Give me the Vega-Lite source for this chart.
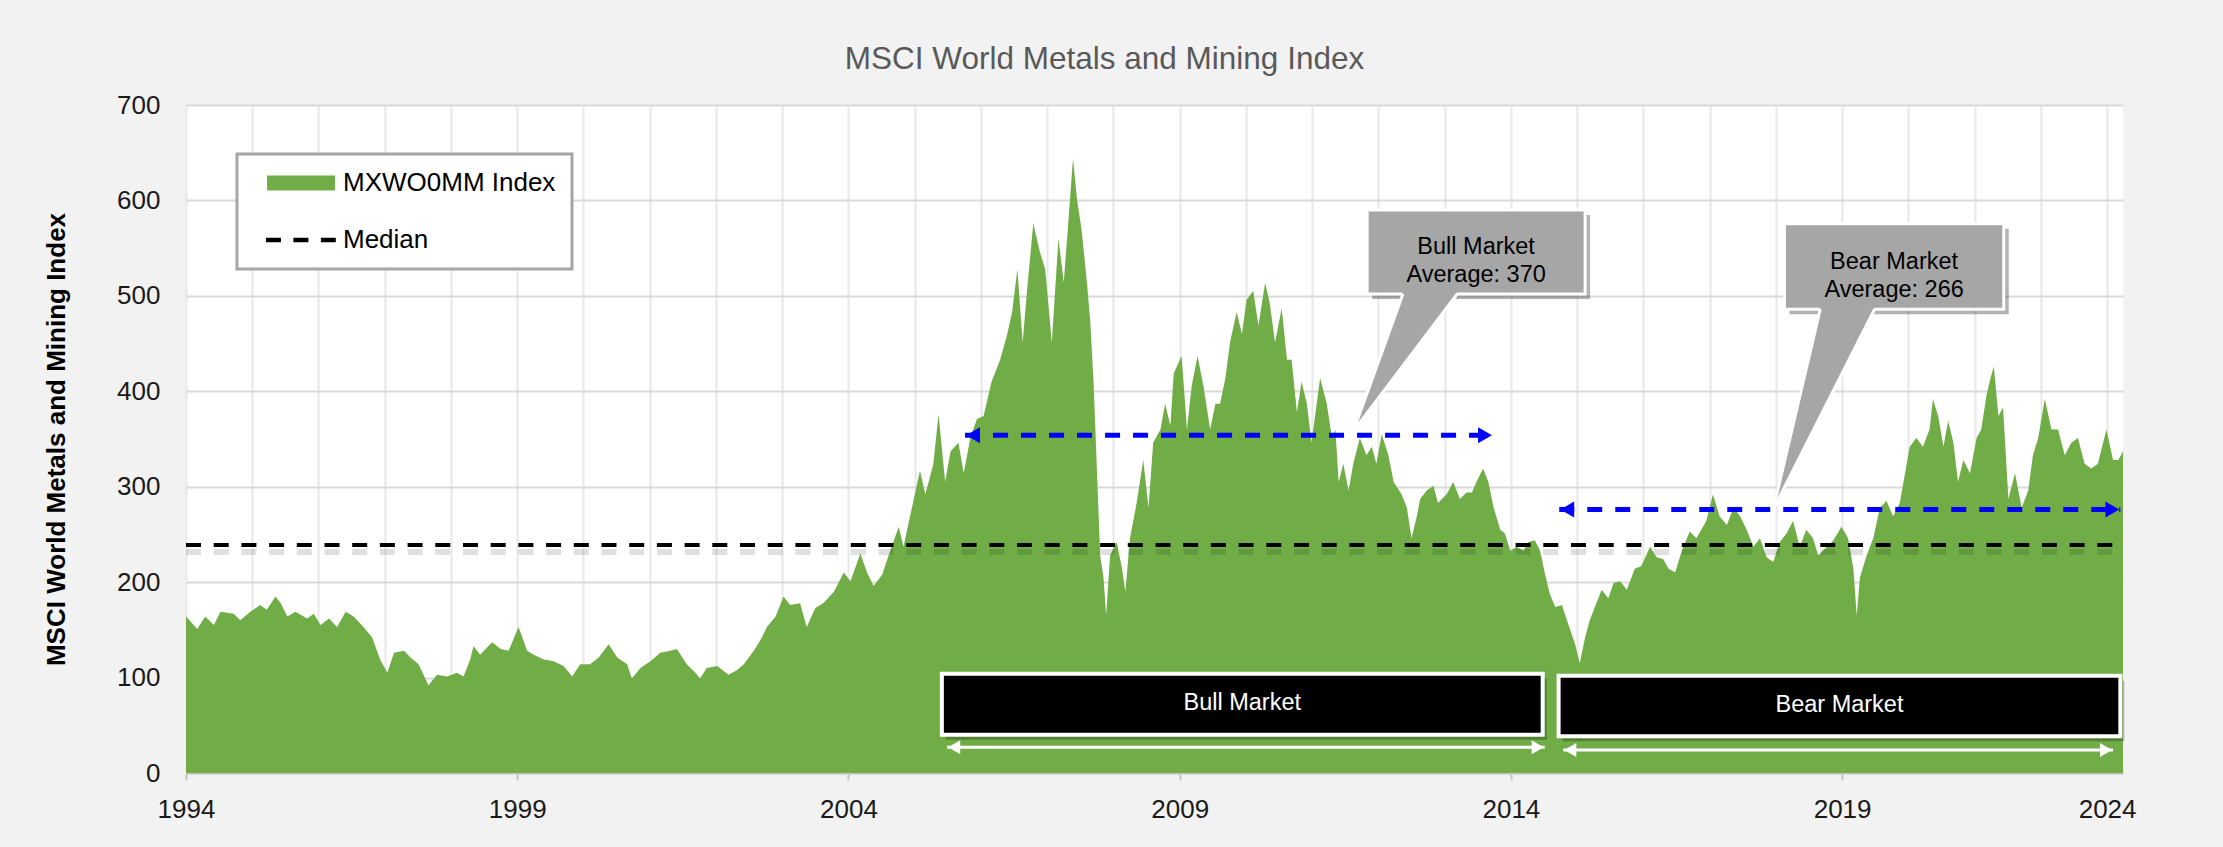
{
  "$schema": "https://vega.github.io/schema/vega-lite/v6.json",
  "width": 1937,
  "height": 668,
  "autosize": {"type": "none"},
  "padding": {"left": 186, "top": 105, "right": 100, "bottom": 74},
  "background": "#f2f2f2",
  "config": {
    "view": {"fill": "white", "stroke": null},
    "font": "Liberation Sans",
    "legend": {"strokeWidth": 3}
  },
  "title": {
    "text": "MSCI World Metals and Mining Index",
    "font": "Liberation Sans",
    "fontSize": 31.5,
    "fontWeight": "normal",
    "color": "#595959",
    "anchor": "middle",
    "frame": "group",
    "dx": -50,
    "offset": -8,
    "baseline": "alphabetic"
  },
  "datasets": {
    "series": [
      {"t":1994.00,"v":164},{"t":1994.17,"v":151},{"t":1994.29,"v":164},{"t":1994.42,"v":155},{"t":1994.52,"v":169},{"t":1994.72,"v":167},{"t":1994.82,"v":160},{"t":1994.97,"v":169},{"t":1995.12,"v":176},{"t":1995.22,"v":171},{"t":1995.35,"v":185},{"t":1995.43,"v":178},{"t":1995.53,"v":164},{"t":1995.65,"v":169},{"t":1995.83,"v":162},{"t":1995.93,"v":167},{"t":1996.03,"v":155},{"t":1996.16,"v":162},{"t":1996.28,"v":153},{"t":1996.41,"v":169},{"t":1996.53,"v":164},{"t":1996.68,"v":153},{"t":1996.81,"v":142},{"t":1996.93,"v":119},{"t":1997.04,"v":105},{"t":1997.14,"v":126},{"t":1997.29,"v":128},{"t":1997.39,"v":121},{"t":1997.51,"v":114},{"t":1997.66,"v":92},{"t":1997.79,"v":103},{"t":1997.94,"v":101},{"t":1998.09,"v":105},{"t":1998.19,"v":101},{"t":1998.29,"v":119},{"t":1998.34,"v":133},{"t":1998.44,"v":124},{"t":1998.62,"v":137},{"t":1998.75,"v":130},{"t":1998.87,"v":128},{"t":1999.02,"v":153},{"t":1999.15,"v":128},{"t":1999.25,"v":124},{"t":1999.40,"v":119},{"t":1999.55,"v":117},{"t":1999.70,"v":112},{"t":1999.83,"v":101},{"t":1999.95,"v":114},{"t":2000.10,"v":114},{"t":2000.23,"v":121},{"t":2000.38,"v":135},{"t":2000.51,"v":121},{"t":2000.66,"v":114},{"t":2000.73,"v":99},{"t":2000.86,"v":110},{"t":2001.01,"v":117},{"t":2001.16,"v":126},{"t":2001.31,"v":128},{"t":2001.41,"v":130},{"t":2001.56,"v":114},{"t":2001.69,"v":105},
      {"t":2001.76,"v":99},{"t":2001.86,"v":110},{"t":2002.02,"v":112},{"t":2002.19,"v":103},{"t":2002.32,"v":108},{"t":2002.42,"v":114},{"t":2002.57,"v":128},{"t":2002.67,"v":139},{"t":2002.77,"v":153},{"t":2002.90,"v":164},{"t":2003.02,"v":185},{"t":2003.12,"v":176},{"t":2003.27,"v":178},{"t":2003.37,"v":153},{"t":2003.50,"v":173},{"t":2003.62,"v":178},{"t":2003.78,"v":190},{"t":2003.93,"v":210},{"t":2004.03,"v":201},{"t":2004.18,"v":230},{"t":2004.28,"v":210},{"t":2004.38,"v":196},{"t":2004.51,"v":208},{"t":2004.63,"v":233},{"t":2004.76,"v":258},{"t":2004.83,"v":237},{"t":2004.93,"v":269},{"t":2005.08,"v":317},{"t":2005.16,"v":292},{"t":2005.28,"v":323},{"t":2005.36,"v":376},{"t":2005.46,"v":305},{"t":2005.54,"v":337},{"t":2005.66,"v":346},{"t":2005.74,"v":314},{"t":2005.84,"v":351},{"t":2005.94,"v":371},{"t":2006.04,"v":374},{"t":2006.16,"v":410},{"t":2006.29,"v":433},{"t":2006.39,"v":458},{"t":2006.47,"v":483},{"t":2006.55,"v":528},{"t":2006.63,"v":451},{"t":2006.69,"v":501},{"t":2006.79,"v":576},{"t":2006.89,"v":546},{"t":2006.97,"v":528},{"t":2007.07,"v":451},{"t":2007.17,"v":560},{"t":2007.25,"v":514},{"t":2007.32,"v":578},{"t":2007.39,"v":644},{"t":2007.45,"v":601},{"t":2007.52,"v":569},{"t":2007.60,"v":514},{"t":2007.65,"v":474},{"t":2007.70,"v":410},{"t":2007.75,"v":319},{"t":2007.80,"v":228},{"t":2007.85,"v":205},{"t":2007.89,"v":165},{"t":2007.95,"v":228},{"t":2008.05,"v":242},{"t":2008.13,"v":214},{"t":2008.18,"v":190},{"t":2008.25,"v":246},{"t":2008.35,"v":283},{"t":2008.45,"v":328},{"t":2008.53,"v":278},{"t":2008.60,"v":346},{"t":2008.71,"v":360},{"t":2008.78,"v":387},{"t":2008.86,"v":364},{"t":2008.91,"v":419},{"t":2009.03,"v":437},{"t":2009.11,"v":360},{"t":2009.18,"v":405},{"t":2009.27,"v":437},{"t":2009.36,"v":405},{"t":2009.46,"v":360},{"t":2009.54,"v":387},
      {"t":2009.61,"v":387},{"t":2009.69,"v":414},{"t":2009.76,"v":451},{"t":2009.86,"v":483},{"t":2009.94,"v":460},{"t":2010.01,"v":496},{"t":2010.11,"v":505},{"t":2010.19,"v":469},{"t":2010.29,"v":514},{"t":2010.36,"v":492},{"t":2010.44,"v":451},{"t":2010.54,"v":487},{"t":2010.62,"v":433},{"t":2010.69,"v":433},{"t":2010.77,"v":378},{"t":2010.84,"v":410},{"t":2010.92,"v":387},{"t":2010.99,"v":346},{"t":2011.12,"v":414},{"t":2011.22,"v":387},{"t":2011.30,"v":351},{"t":2011.35,"v":360},{"t":2011.40,"v":305},{"t":2011.47,"v":324},{"t":2011.55,"v":296},{"t":2011.62,"v":324},{"t":2011.72,"v":351},{"t":2011.82,"v":333},{"t":2011.90,"v":342},{"t":2011.97,"v":324},{"t":2012.05,"v":355},{"t":2012.15,"v":333},{"t":2012.23,"v":305},{"t":2012.35,"v":292},{"t":2012.43,"v":278},{"t":2012.50,"v":246},{"t":2012.58,"v":269},{"t":2012.63,"v":287},{"t":2012.73,"v":296},{"t":2012.83,"v":301},{"t":2012.90,"v":283},{"t":2013.03,"v":292},{"t":2013.13,"v":305},{"t":2013.23,"v":287},{"t":2013.33,"v":294},{"t":2013.41,"v":294},{"t":2013.48,"v":305},{"t":2013.58,"v":319},{"t":2013.66,"v":305},{"t":2013.74,"v":278},{"t":2013.84,"v":255},{"t":2013.91,"v":251},{"t":2013.99,"v":233},{"t":2014.09,"v":237},{"t":2014.19,"v":233},{"t":2014.26,"v":242},{"t":2014.36,"v":244},{"t":2014.44,"v":233},{"t":2014.51,"v":210},{"t":2014.59,"v":187},{"t":2014.67,"v":174},{"t":2014.77,"v":176},{"t":2014.87,"v":155},{"t":2014.97,"v":135},{"t":2015.04,"v":115},{"t":2015.12,"v":142},{"t":2015.19,"v":160},{"t":2015.29,"v":178},{"t":2015.37,"v":192},{"t":2015.47,"v":183},{"t":2015.55,"v":199},{"t":2015.65,"v":201},{"t":2015.75,"v":192},{"t":2015.87,"v":214},{"t":2015.97,"v":217},{"t":2016.10,"v":237},{"t":2016.20,"v":226},{"t":2016.30,"v":224},{"t":2016.38,"v":214},{"t":2016.48,"v":210},{"t":2016.58,"v":233},{"t":2016.70,"v":253},{"t":2016.80,"v":246},
      {"t":2016.95,"v":264},{"t":2017.05,"v":292},{"t":2017.15,"v":269},{"t":2017.26,"v":260},{"t":2017.36,"v":278},{"t":2017.46,"v":269},{"t":2017.56,"v":255},{"t":2017.66,"v":237},{"t":2017.76,"v":246},{"t":2017.86,"v":226},{"t":2017.96,"v":221},{"t":2018.06,"v":242},{"t":2018.16,"v":251},{"t":2018.26,"v":264},{"t":2018.36,"v":237},{"t":2018.46,"v":255},{"t":2018.56,"v":246},{"t":2018.64,"v":228},{"t":2018.77,"v":237},{"t":2018.87,"v":244},{"t":2018.99,"v":258},{"t":2019.09,"v":246},{"t":2019.17,"v":214},{"t":2019.22,"v":165},{"t":2019.27,"v":205},{"t":2019.37,"v":228},{"t":2019.47,"v":246},{"t":2019.57,"v":278},{"t":2019.67,"v":285},{"t":2019.77,"v":269},{"t":2019.87,"v":283},{"t":2019.95,"v":314},{"t":2020.02,"v":342},{"t":2020.12,"v":351},{"t":2020.22,"v":342},{"t":2020.32,"v":360},{"t":2020.37,"v":392},{"t":2020.45,"v":374},{"t":2020.53,"v":342},{"t":2020.60,"v":369},{"t":2020.68,"v":346},{"t":2020.75,"v":305},{"t":2020.83,"v":328},{"t":2020.93,"v":314},{"t":2021.03,"v":351},{"t":2021.10,"v":360},{"t":2021.18,"v":396},{"t":2021.24,"v":414},{"t":2021.29,"v":426},{"t":2021.36,"v":374},{"t":2021.43,"v":383},{"t":2021.51,"v":287},{"t":2021.61,"v":314},{"t":2021.71,"v":278},{"t":2021.81,"v":296},{"t":2021.88,"v":333},{"t":2021.96,"v":351},{"t":2022.06,"v":392},{"t":2022.16,"v":360},{"t":2022.26,"v":360},{"t":2022.36,"v":333},{"t":2022.46,"v":346},{"t":2022.56,"v":351},{"t":2022.66,"v":324},{"t":2022.76,"v":319},{"t":2022.86,"v":324},{"t":2022.99,"v":360},{"t":2023.09,"v":328},{"t":2023.17,"v":328},{"t":2023.24,"v":337}
    ],
    "median": [{"t": 1994, "t2": 2023.24, "v": 239}],
    "blue": [
      {"t": 2005.76, "t2": 2013.73, "v": 354},
      {"t": 2014.73, "t2": 2023.2, "v": 276}
    ],
    "blueHeads": [
      {"t": 2005.76, "v": 354, "dir": "left"},
      {"t": 2013.73, "v": 354, "dir": "right"},
      {"t": 2014.73, "v": 276, "dir": "left"},
      {"t": 2023.2, "v": 276, "dir": "right"}
    ],
    "white": [
      {"t": 2005.49, "t2": 2014.51, "v": 27},
      {"t": 2014.79, "t2": 2023.09, "v": 24}
    ],
    "whiteHeads": [
      {"t": 2005.49, "v": 27, "dir": "left"},
      {"t": 2014.51, "v": 27, "dir": "right"},
      {"t": 2014.79, "v": 24, "dir": "left"},
      {"t": 2023.09, "v": 24, "dir": "right"}
    ],
    "boxes": [
      {"t": 2005.41, "t2": 2014.48, "v": 104, "v2": 40, "label": "Bull Market"},
      {"t": 2014.72, "t2": 2023.2, "v": 102, "v2": 38.5, "label": "Bear Market"}
    ],
    "callouts": [
      {"t": 2011.83, "t2": 2015.12, "v": 590, "v2": 502, "label": "Bull Market\nAverage: 370"},
      {"t": 2018.13, "t2": 2021.44, "v": 575.5, "v2": 486, "label": "Bear Market\nAverage: 266"}
    ],
    "pointers": [
      {"id": "bull", "v": 358, "t": 2011.62, "t2": 2011.62},
      {"id": "bull", "v": 504, "t": 2012.37, "t2": 2013.19},
      {"id": "bear", "v": 276, "t": 2017.96, "t2": 2017.96},
      {"id": "bear", "v": 488, "t": 2018.67, "t2": 2019.49}
    ],
    "pointerLines": [
      {"id": "bull", "k": 0, "t": 2012.37, "v": 502},
      {"id": "bull", "k": 1, "t": 2011.62, "v": 358},
      {"id": "bull", "k": 2, "t": 2013.19, "v": 502},
      {"id": "bear", "k": 0, "t": 2018.67, "v": 486},
      {"id": "bear", "k": 1, "t": 2017.96, "v": 276},
      {"id": "bear", "k": 2, "t": 2019.49, "v": 486}
    ],
    "legendItems": [
      {"series": "MXWO0MM Index"},
      {"series": "Median"}
    ]
  },
  "encoding": {
    "x": {
      "field": "t",
      "type": "quantitative",
      "scale": {"domain": [1994, 2023.24], "nice": false, "zero": false},
      "axis": {
        "title": null,
        "values": [1994,1995,1996,1997,1998,1999,2000,2001,2002,2003,2004,2005,2006,2007,2008,2009,2010,2011,2012,2013,2014,2015,2016,2017,2018,2019,2020,2021,2022,2023],
        "labelExpr": "datum.value == 2023 ? '2024' : ((datum.value - 1994) % 5 == 0 ? '' + datum.value : '')",
        "grid": true,
        "gridColor": "#e8e8e8",
        "gridWidth": 2,
        "domainColor": "#c4c4c4",
        "domainWidth": 2,
        "tickColor": "#c4c4c4",
        "tickWidth": 2,
        "tickSize": 7,
        "tickOpacity": {"condition": {"test": "(datum.value - 1994) % 5 == 0", "value": 1}, "value": 0},
        "labelFont": "Liberation Sans",
        "labelFontSize": 26,
        "labelColor": "#1a1a1a",
        "labelPadding": 16,
        "labelOverlap": false,
        "labelFlush": false,
        "labelBound": false
      }
    },
    "y": {
      "field": "v",
      "type": "quantitative",
      "scale": {"domain": [0, 700], "nice": false, "zero": true},
      "axis": {
        "title": "MSCI World Metals and Mining Index",
        "values": [0,100,200,300,400,500,600,700],
        "grid": true,
        "gridColor": "#d9d9d9",
        "gridWidth": 2,
        "domain": false,
        "ticks": false,
        "labelFont": "Liberation Sans",
        "labelFontSize": 26,
        "labelColor": "#1a1a1a",
        "labelPadding": 26,
        "titleFont": "Liberation Sans",
        "titleFontSize": 26,
        "titleFontWeight": "bold",
        "titleColor": "#000000",
        "titlePadding": 47
      }
    }
  },
  "layer": [
    {
      "data": {"name": "series"},
      "mark": {"type": "area", "color": "#70ad47", "interpolate": "linear"}
    },
    {
      "data": {"name": "median"},
      "mark": {"type": "rule", "stroke": "#000000", "opacity": 0.12, "strokeWidth": 6, "yOffset": 7, "strokeDash": [15, 12.7]},
      "encoding": {"x2": {"field": "t2"}}
    },
    {
      "data": {"name": "median"},
      "mark": {"type": "rule", "stroke": "#000000", "strokeWidth": 4, "strokeDash": [15, 12.7]},
      "encoding": {"x2": {"field": "t2"}}
    },
    {
      "data": {"name": "blue"},
      "mark": {"type": "rule", "stroke": "#0000ff", "strokeWidth": 5, "strokeDash": [15, 13]},
      "encoding": {"x2": {"field": "t2"}}
    },
    {
      "data": {"name": "blueHeads"},
      "transform": [{"filter": "datum.dir == 'left'"}],
      "mark": {"type": "point", "shape": "triangle-left", "filled": true, "color": "#0000ff", "opacity": 1, "size": 256, "xOffset": 8}
    },
    {
      "data": {"name": "blueHeads"},
      "transform": [{"filter": "datum.dir == 'right'"}],
      "mark": {"type": "point", "shape": "triangle-right", "filled": true, "color": "#0000ff", "opacity": 1, "size": 256, "xOffset": -8}
    },
    {
      "data": {"name": "callouts"},
      "mark": {"type": "rect", "fill": "#000000", "opacity": 0.3, "xOffset": 5, "x2Offset": 5, "yOffset": 5, "y2Offset": 5},
      "encoding": {"x2": {"field": "t2"}, "y2": {"field": "v2"}}
    },
    {
      "data": {"name": "callouts"},
      "mark": {"type": "rect", "fill": "#a6a6a6", "stroke": "#ffffff", "strokeWidth": 3},
      "encoding": {"x2": {"field": "t2"}, "y2": {"field": "v2"}}
    },
    {
      "data": {"name": "pointers"},
      "mark": {"type": "area", "orient": "horizontal", "color": "#a6a6a6", "opacity": 1},
      "encoding": {"x2": {"field": "t2"}, "detail": {"field": "id"}}
    },
    {
      "data": {"name": "pointerLines"},
      "mark": {"type": "line", "stroke": "#ffffff", "strokeWidth": 3},
      "encoding": {"detail": {"field": "id"}, "order": {"field": "k"}}
    },
    {
      "data": {"name": "callouts"},
      "transform": [
        {"calculate": "(datum.t + datum.t2) / 2", "as": "t"},
        {"calculate": "(datum.v + datum.v2) / 2", "as": "v"}
      ],
      "mark": {"type": "text", "font": "Liberation Sans", "fontSize": 23.5, "color": "#000000", "lineBreak": "\n", "lineHeight": 28, "align": "center", "baseline": "middle", "dy": -5},
      "encoding": {"text": {"field": "label"}}
    },
    {
      "data": {"name": "boxes"},
      "mark": {"type": "rect", "fill": "#000000", "opacity": 0.25, "xOffset": 4, "x2Offset": 4, "yOffset": 5, "y2Offset": 5},
      "encoding": {"x2": {"field": "t2"}, "y2": {"field": "v2"}}
    },
    {
      "data": {"name": "boxes"},
      "mark": {"type": "rect", "fill": "#000000", "stroke": "#ffffff", "strokeWidth": 4},
      "encoding": {"x2": {"field": "t2"}, "y2": {"field": "v2"}}
    },
    {
      "data": {"name": "boxes"},
      "transform": [
        {"calculate": "(datum.t + datum.t2) / 2", "as": "t"},
        {"calculate": "(datum.v + datum.v2) / 2", "as": "v"}
      ],
      "mark": {"type": "text", "font": "Liberation Sans", "fontSize": 23.5, "color": "#ffffff", "align": "center", "baseline": "middle", "dy": -1},
      "encoding": {"text": {"field": "label"}}
    },
    {
      "data": {"name": "white"},
      "mark": {"type": "rule", "stroke": "#ffffff", "strokeWidth": 3},
      "encoding": {"x2": {"field": "t2"}}
    },
    {
      "data": {"name": "whiteHeads"},
      "transform": [{"filter": "datum.dir == 'left'"}],
      "mark": {"type": "point", "shape": "triangle-left", "filled": true, "color": "#ffffff", "opacity": 1, "size": 196, "xOffset": 7}
    },
    {
      "data": {"name": "whiteHeads"},
      "transform": [{"filter": "datum.dir == 'right'"}],
      "mark": {"type": "point", "shape": "triangle-right", "filled": true, "color": "#ffffff", "opacity": 1, "size": 196, "xOffset": -7}
    },
    {
      "data": {"name": "legendItems"},
      "mark": {"type": "point", "filled": true, "opacity": 0},
      "encoding": {
        "color": {
          "field": "series",
          "type": "nominal",
          "scale": {"domain": ["MXWO0MM Index", "Median"], "range": ["#70ad47", "#000000"]},
          "legend": {
            "title": null,
            "orient": "none",
            "legendX": 51,
            "legendY": 49,
            "direction": "vertical",
            "fillColor": "#ffffff",
            "strokeColor": "#a6a6a6",
            "padding": 16,
            "symbolSize": 676,
            "symbolStrokeWidth": 0,
            "symbolOpacity": 1,
            "labelFont": "Liberation Sans",
            "labelFontSize": 26,
            "labelColor": "#000000",
            "labelOffset": 64,
            "labelLimit": 500,
            "rowPadding": 31
          }
        },
        "shape": {
          "field": "series",
          "type": "nominal",
          "scale": {
            "domain": ["MXWO0MM Index", "Median"],
            "range": ["M0.08,-0.58H5.31V0.58H0.08Z", "M0,-0.17H1.15V0.17H0Z M2.11,-0.17H3.26V0.17H2.11Z M4.22,-0.17H5.37V0.17H4.22Z"]
          },
          "legend": {
            "title": null,
            "orient": "none",
            "legendX": 51,
            "legendY": 49,
            "direction": "vertical",
            "fillColor": "#ffffff",
            "strokeColor": "#a6a6a6",
            "padding": 16,
            "symbolSize": 676,
            "symbolStrokeWidth": 0,
            "symbolOpacity": 1,
            "labelFont": "Liberation Sans",
            "labelFontSize": 26,
            "labelColor": "#000000",
            "labelOffset": 64,
            "labelLimit": 500,
            "rowPadding": 31
          }
        }
      }
    }
  ]
}
